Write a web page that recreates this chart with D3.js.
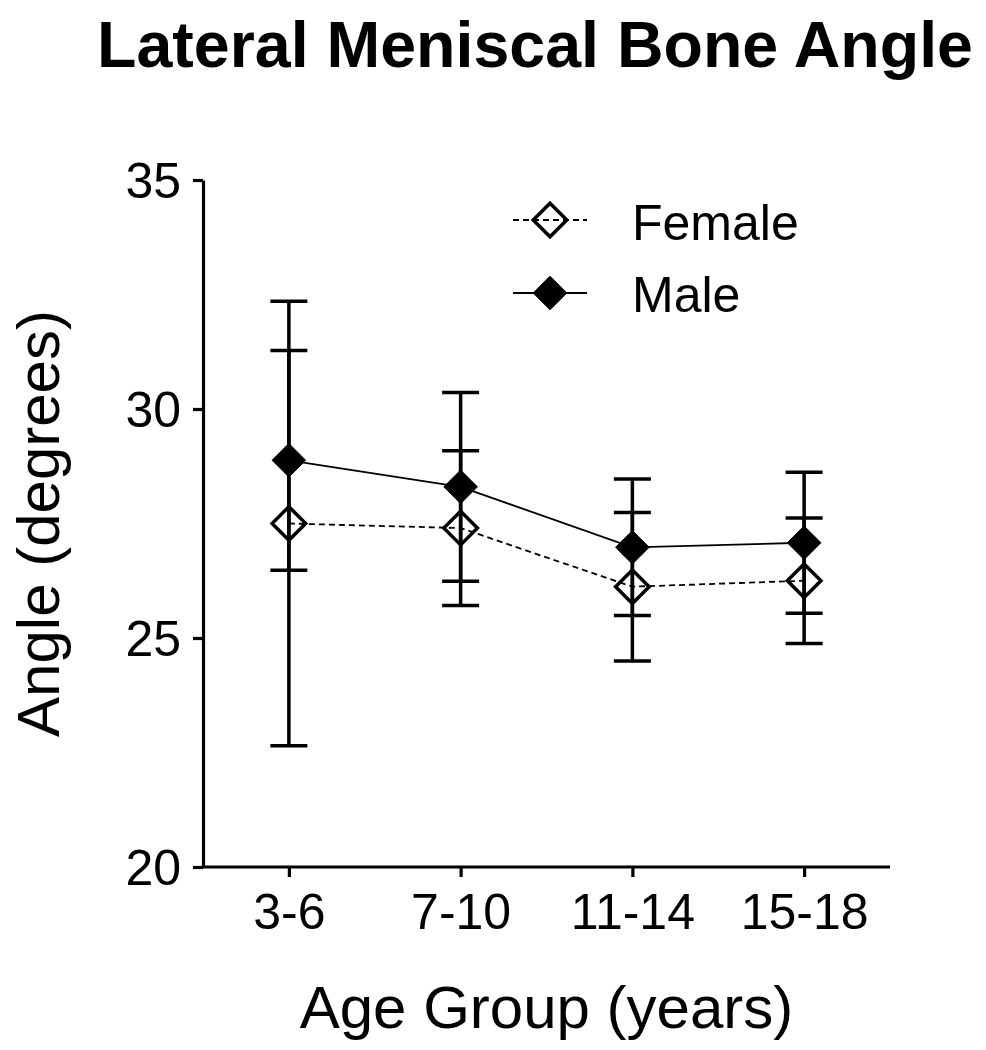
<!DOCTYPE html>
<html>
<head>
<meta charset="utf-8">
<script src="https://cdn.jsdelivr.net/npm/d3@7"></script>
<style>
  html, body { margin: 0; padding: 0; background: #fff; }
  svg { display: block; font-family: "Liberation Sans", Arial, sans-serif; }
</style>
</head>
<body>
<svg id="chart" width="986" height="1050"></svg>
<script>
const categories = ["3-6", "7-10", "11-14", "15-18"];
const femaleMean = [27.5, 27.4, 26.12, 26.25];
const femaleErr  = [4.85, 1.69, 1.62, 1.37];
const maleMean   = [28.88, 28.3, 26.98, 27.08];
const maleErr    = [2.4, 2.06, 1.49, 1.54];
const yTicks = [20, 25, 30, 35];

(function () {
const svg = d3.select("#chart");
const pLeft = 203, pRight = 890, pTop = 180, pBottom = 867;

const x = d3.scalePoint().domain(categories).range([pLeft, pRight]).padding(0.5);
const y = d3.scaleLinear().domain([20, 35]).range([pBottom, pTop]);

// Title
svg.append("text")
  .attr("x", 97).attr("y", 67)
  .attr("font-size", 64).attr("font-weight", "bold")
  .attr("textLength", 876).attr("lengthAdjust", "spacingAndGlyphs")
  .text("Lateral Meniscal Bone Angle");

// Axes
const yAxis = svg.append("g").attr("transform", `translate(${pLeft},0)`)
  .call(d3.axisLeft(y).tickValues(yTicks).tickSize(10).tickPadding(12).tickSizeOuter(0));
const xAxis = svg.append("g").attr("transform", `translate(0,${pBottom})`)
  .call(d3.axisBottom(x).tickSize(10).tickPadding(16).tickSizeOuter(0));
xAxis.select(".domain").attr("d", `M${pLeft},0H${pRight}`);
[yAxis, xAxis].forEach(g => {
  g.selectAll("path, line").attr("stroke", "#000").attr("stroke-width", 3.2);
  g.selectAll("text").attr("fill", "#000").attr("font-size", 50)
    .attr("font-family", "'Liberation Sans', Arial, sans-serif");
});
yAxis.selectAll("text").attr("dy", "0.35em");

// Axis titles
svg.append("text")
  .attr("x", (pLeft + pRight) / 2).attr("y", 1028)
  .attr("text-anchor", "middle").attr("font-size", 60)
  .text("Age Group (years)");
svg.append("text")
  .attr("transform", `translate(59,${(pTop + pBottom) / 2}) rotate(-90)`)
  .attr("text-anchor", "middle").attr("font-size", 60)
  .text("Angle (degrees)");

const series = [
  { name: "Female", mean: femaleMean, err: femaleErr, filled: false, dash: "6,4" },
  { name: "Male", mean: maleMean, err: maleErr, filled: true, dash: null }
];

const capW = 37;
const diamond = d3.symbol().type(d3.symbolDiamond2).size(720);

// Error bars
series.forEach(s => {
  const g = svg.append("g");
  categories.forEach((c, i) => {
    const cx = x(c), hi = y(s.mean[i] + s.err[i]), lo = y(s.mean[i] - s.err[i]);
    g.append("line").attr("x1", cx).attr("x2", cx).attr("y1", hi).attr("y2", lo)
      .attr("stroke", "#000").attr("stroke-width", 3.5);
    [hi, lo].forEach(yy => g.append("line")
      .attr("x1", cx - capW / 2).attr("x2", cx + capW / 2).attr("y1", yy).attr("y2", yy)
      .attr("stroke", "#000").attr("stroke-width", 3.5));
  });
});

// Lines
const line = d3.line().x((d, i) => x(categories[i])).y(d => y(d));
series.forEach(s => {
  svg.append("path").datum(s.mean).attr("d", line)
    .attr("fill", "none").attr("stroke", "#000").attr("stroke-width", 1.8)
    .attr("stroke-dasharray", s.dash);
});

// Markers
series.forEach(s => {
  svg.append("g").selectAll("path").data(s.mean).join("path")
    .attr("transform", (d, i) => `translate(${x(categories[i])},${y(d)})`)
    .attr("d", diamond)
    .attr("fill", s.filled ? "#000" : "none")
    .attr("stroke", "#000").attr("stroke-width", s.filled ? 1 : 3.5);
});

// Legend
const legendItems = [
  { s: series[0], cy: 220, ty: 240 },
  { s: series[1], cy: 293, ty: 312 }
];
legendItems.forEach(L => {
  svg.append("line").attr("x1", 513).attr("x2", 587).attr("y1", L.cy).attr("y2", L.cy)
    .attr("stroke", "#000").attr("stroke-width", 1.8).attr("stroke-dasharray", L.s.dash);
  svg.append("path").attr("transform", `translate(550,${L.cy})`).attr("d", diamond)
    .attr("fill", L.s.filled ? "#000" : "none")
    .attr("stroke", "#000").attr("stroke-width", L.s.filled ? 1 : 3.5);
  svg.append("text").attr("x", 632).attr("y", L.ty).attr("font-size", 50).text(L.s.name);
});
})();
</script>
</body>
</html>
